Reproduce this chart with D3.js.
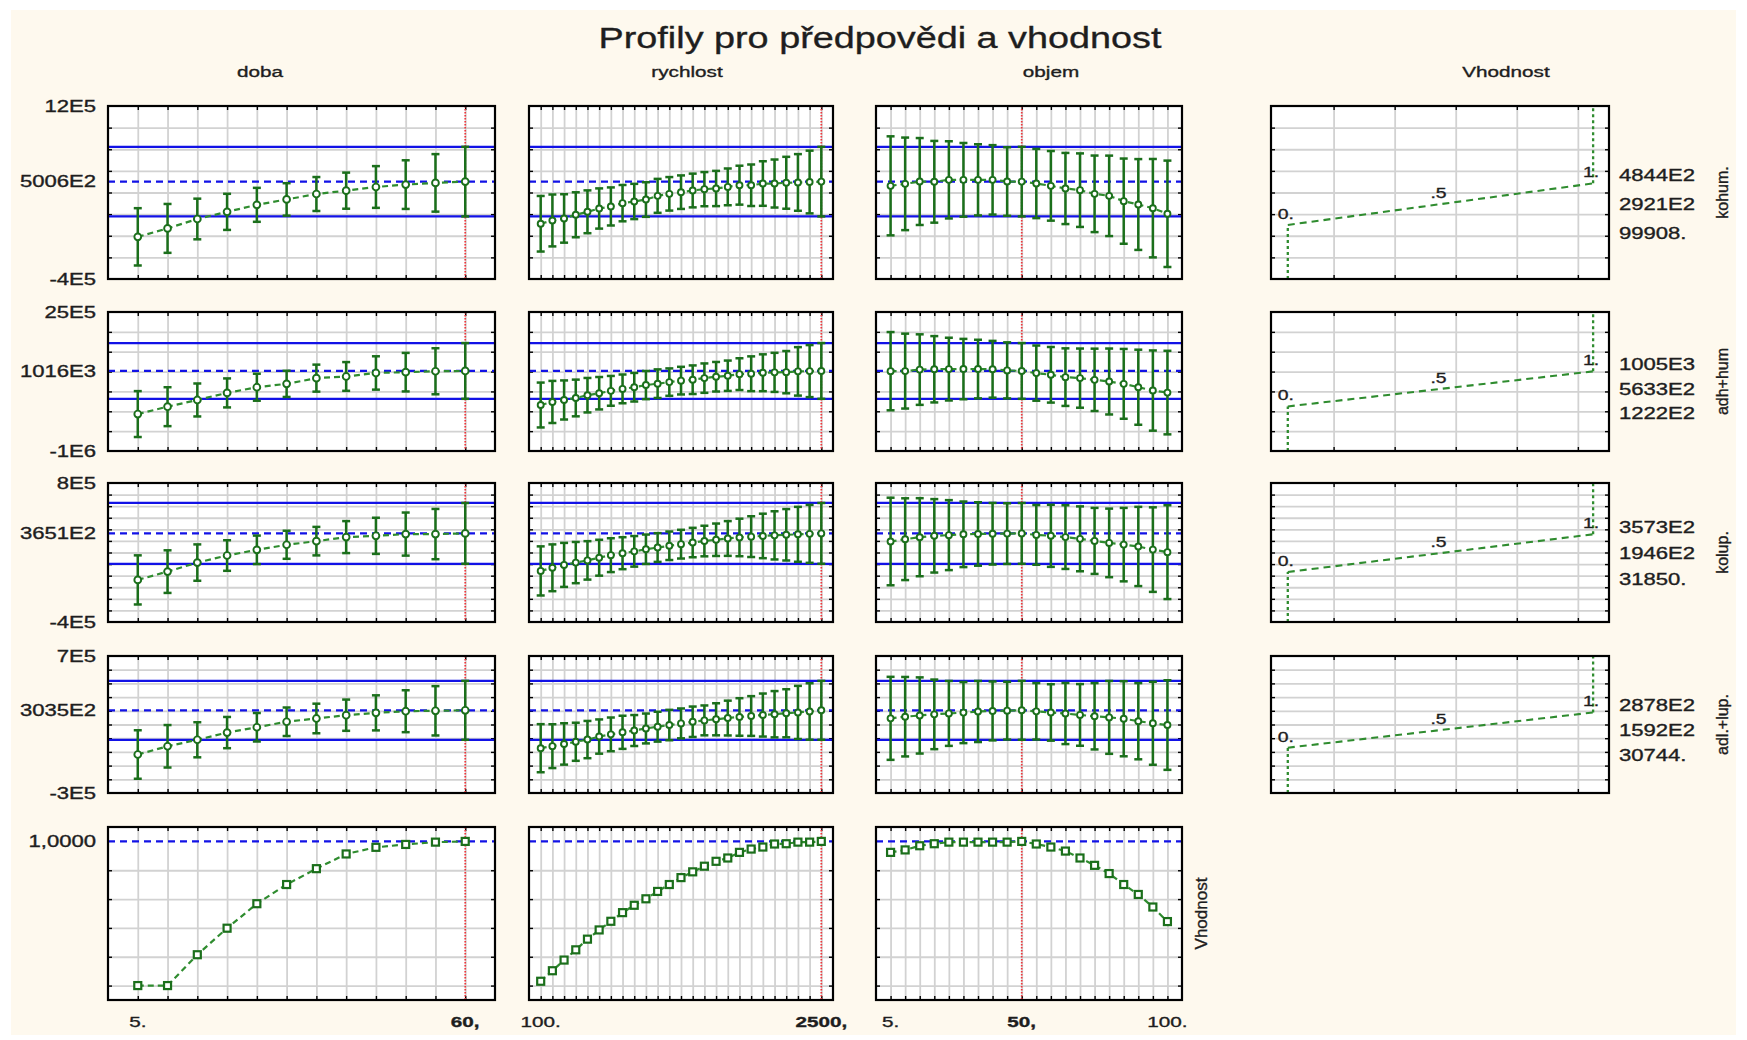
<!DOCTYPE html>
<html>
<head>
<meta charset="utf-8">
<script src="https://cdn.jsdelivr.net/npm/d3@7"></script>
<style>
  body { margin: 0; background: #ffffff; }
  svg { display: block; font-family: "Liberation Sans", Arial, sans-serif; }
  text { paint-order: stroke; stroke: #1e1e1e; stroke-width: 0.35px; }
</style>
</head>
<body>
<svg id="chart" width="1747" height="1040"></svg>
<script>
// ---------- factors (columns) ----------
const factorNames = ["doba", "rychlost", "objem"];
const dobaLevels = [5, 10, 15, 20, 25, 30, 35, 40, 45, 50, 55, 60];
const rychlostLevels = [100, 200, 300, 400, 500, 600, 700, 800, 900, 1000, 1100, 1200, 1300,
  1400, 1500, 1600, 1700, 1800, 1900, 2000, 2100, 2200, 2300, 2400, 2500];
const objemLevels = [5, 10, 15, 20, 25, 30, 35, 40, 45, 50, 55, 60, 65, 70, 75, 80, 85, 90, 95, 100];
const factorDomains = [[0, 65], [0, 2600], [0, 105]];
const currentSetting = [60, 2500, 50];
const xTickValues = [[5, 60], [100, 2500], [5, 50, 100]];
const xTickTexts = [["5.", "60,"], ["100.", "2500,"], ["5.", "50,", "100."]];

// ---------- responses (rows) ----------
const responseNames = ["kohum.", "adh+hum", "kolup.", "adl.+lup."];
const responseDomains = [[-400000, 1200000], [-1000000, 2500000], [-400000, 800000], [-300000, 700000]];
const responseGridStep = [200000, 500000, 100000, 100000];
const responseTopLabels = ["12E5", "25E5", "8E5", "7E5"];
const responseBottomLabels = ["-4E5", "-1E6", "-4E5", "-3E5"];
const currentPred = [500600, 1016000, 365100, 303500];
const currentPredLabels = ["5006E2", "1016E3", "3651E2", "3035E2"];
const currentCI = [322000, 702000, 262500, 215000];

// ---------- predicted profiles with confidence half-widths ----------
const kohumDobaPred = [-10000, 68000, 155000, 221000, 286000, 336000, 386000, 417000, 451000, 473000, 489000, 500600];
const kohumDobaCI = [265000, 226000, 188000, 167000, 157000, 150000, 157000, 167000, 193000, 225000, 266000, 322000];
const kohumRychlostPred = [111000, 141500, 160000, 194000, 221600, 252000, 271000, 301600, 317000, 335000, 369000, 387700,
  403000, 418500, 431000, 437000, 452000, 467700, 467000, 483000, 483000, 490000, 493000, 497000, 500600];
const kohumRychlostCI = [257000, 240000, 224000, 208000, 198000, 186000, 176000, 168000, 163000, 160000, 157000, 155000,
  155000, 156000, 158000, 163000, 170000, 180000, 192000, 206000, 222000, 240000, 262000, 290000, 322000];
const kohumObjemPred = [461600, 480000, 501600, 499000, 517000, 517000, 517000, 517000, 501600, 500600,
  483000, 461600, 437000, 421600, 387700, 369000, 320000, 289000, 255000, 203000];
const kohumObjemCI = [458000, 428000, 402000, 378000, 357000, 341000, 329000, 321000, 317000, 322000,
  320000, 322000, 329000, 340000, 354000, 372000, 394000, 420000, 455000, 492000];

const adhDobaPred = [-70000, 116000, 285000, 462600, 606000, 691000, 834600, 877000, 965000, 985000, 1008000, 1016000];
const adhDobaCI = [578000, 490000, 415000, 365000, 340000, 330000, 340000, 362000, 420000, 485000, 580000, 702000];
const adhRychlostPred = [158000, 235000, 285000, 335000, 405000, 455000, 515000, 564000, 606000, 660000, 695000, 735000,
  772000, 795000, 835000, 870000, 895000, 935000, 945000, 970000, 980000, 985000, 1005000, 1012000, 1016000];
const adhRychlostCI = [565000, 530000, 492000, 462000, 434000, 408000, 375000, 362000, 360000, 355000, 360000, 345000,
  348000, 360000, 370000, 372000, 382000, 400000, 438000, 464000, 492000, 532000, 610000, 655000, 702000];
const adhObjemPred = [1010000, 1012000, 1050000, 1058000, 1062000, 1063000, 1063000, 1058000, 1030000, 1016000,
  961000, 919000, 860000, 835000, 792000, 750000, 691000, 606000, 522000, 471000];
const adhObjemCI = [985000, 943000, 888000, 835000, 790000, 760000, 738000, 715000, 706000, 702000,
  695000, 700000, 725000, 745000, 785000, 830000, 879000, 945000, 1010000, 1052000];

const kolupDobaPred = [-36600, 35000, 113000, 174000, 223000, 266600, 298000, 333000, 344000, 359000, 359000, 365100];
const kolupDobaCI = [212000, 184000, 157000, 132000, 123000, 121000, 123000, 138000, 156000, 186000, 217000, 262500];
const kolupRychlostPred = [41000, 68000, 93000, 113000, 132000, 155000, 177000, 194000, 210000, 228000, 243000, 258000,
  272000, 286000, 299000, 310000, 321000, 330000, 337000, 343000, 348000, 353000, 357000, 361000, 365100];
const kolupRychlostCI = [212000, 202000, 190000, 178000, 166000, 155000, 146000, 138000, 132000, 127000, 124000, 123000,
  124000, 127000, 132000, 140000, 150000, 162000, 176000, 192000, 208000, 222000, 237000, 250000, 262500];
const kolupObjemPred = [295000, 315000, 332000, 344000, 350000, 357000, 360000, 362000, 363000, 365100,
  352000, 344000, 333000, 318000, 300000, 283000, 268000, 252000, 225000, 203000];
const kolupObjemCI = [378000, 353000, 337000, 317000, 302000, 283000, 274000, 266000, 262000, 262500,
  258000, 268000, 275000, 280000, 285000, 296000, 317000, 342000, 365000, 405000];

const adlDobaPred = [-19000, 41000, 88500, 141000, 180000, 220000, 244000, 268000, 285000, 297000, 300000, 303500];
const adlDobaCI = [177000, 155000, 128000, 114000, 104000, 104000, 108000, 114000, 128000, 153000, 180000, 215000];
const adlRychlostPred = [27000, 42000, 58000, 74000, 90000, 112000, 128000, 143000, 156000, 171000, 184000, 196000,
  208000, 220000, 230000, 238000, 247000, 255000, 262000, 269000, 275000, 282000, 288000, 295000, 303500];
const adlRychlostCI = [175500, 160000, 151000, 139000, 136000, 125000, 123000, 121000, 113000, 109000, 109000, 111000,
  109000, 111000, 109000, 117000, 127000, 137000, 145000, 157000, 169000, 175500, 194000, 206000, 215000];
const adlObjemPred = [245000, 257000, 266000, 274000, 281000, 287000, 295000, 299000, 301000, 303500,
  296000, 288000, 280000, 270000, 260000, 252000, 242000, 224000, 209000, 196000];
const adlObjemCI = [303000, 290000, 278000, 254000, 237000, 223000, 223000, 215000, 211000, 215000,
  206000, 206000, 223000, 225000, 242000, 266000, 274000, 278000, 303000, 327000];

// ---------- desirability functions per response ----------
const desLow = [99908, 122200, 31850, 30744];
const desMid = [292100, 563300, 194600, 159200];
const desHigh = [484400, 1005000, 357300, 287800];
const desLowLabels = ["99908.", "1222E2", "31850.", "30744."];
const desMidLabels = ["2921E2", "5633E2", "1946E2", "1592E2"];
const desHighLabels = ["4844E2", "1005E3", "3573E2", "2878E2"];
const desPointLabels = ["0.", ".5", "1."];
const desGrid = [0.15, 0.35, 0.55, 0.75, 0.95];

// ---------- overall desirability profiles ----------
const vhodnostDoba = [0, 0, 0.214, 0.398, 0.568, 0.701, 0.811, 0.913, 0.959, 0.979, 0.995, 1.0];
const vhodnostRychlost = [0.030, 0.103, 0.177, 0.248, 0.322, 0.386, 0.446, 0.506, 0.557, 0.602, 0.653, 0.701,
  0.749, 0.789, 0.828, 0.862, 0.885, 0.924, 0.947, 0.961, 0.982, 0.984, 0.995, 0.995, 1.0];
const vhodnostObjem = [0.924, 0.941, 0.970, 0.984, 0.995, 0.995, 0.995, 0.995, 0.995, 1.0,
  0.982, 0.961, 0.933, 0.885, 0.834, 0.777, 0.701, 0.632, 0.545, 0.444];
const vhodnostDomain = [-0.1, 1.1];
const vhodnostGrid = [0, 0.2, 0.4, 0.6, 0.8];
const vhodnostLabel = "1,0000";

// ---------- assemble ----------
const levels = [dobaLevels, rychlostLevels, objemLevels];
const profiles = [
  [[kohumDobaPred, kohumDobaCI], [kohumRychlostPred, kohumRychlostCI], [kohumObjemPred, kohumObjemCI]],
  [[adhDobaPred, adhDobaCI], [adhRychlostPred, adhRychlostCI], [adhObjemPred, adhObjemCI]],
  [[kolupDobaPred, kolupDobaCI], [kolupRychlostPred, kolupRychlostCI], [kolupObjemPred, kolupObjemCI]],
  [[adlDobaPred, adlDobaCI], [adlRychlostPred, adlRychlostCI], [adlObjemPred, adlObjemCI]]
];
const vhodnost = [vhodnostDoba, vhodnostRychlost, vhodnostObjem];

// ---------- layout ----------
const W = 1747, H = 1040;
const colBounds = [[108, 495], [529, 833], [876, 1182]];
const desBounds = [1271, 1609];
const rowBounds = [[106, 279], [312, 451], [483, 622], [656, 793], [827, 1000]];
const headerX = [260, 687, 1051, 1506];

const C = {
  grid: "#d2d2d2", blue: "#1212e6", red: "#f0353a",
  bar: "#1b6f1b", line: "#2f8c2f", text: "#1e1e1e"
};

const svg = d3.select("#chart");
const defs = svg.append("defs");
svg.append("rect").attr("width", W).attr("height", H).attr("fill", "#ffffff");
svg.append("rect").attr("x", 11).attr("y", 10).attr("width", 1725).attr("height", 1025).attr("fill", "#fef9ee");

const SX = 1.38;
function txt(parent, x, y, s, o = {}) {
  return parent.append("text")
    .attr("transform", `translate(${x},${y}) scale(${o.sx ?? SX},1)`)
    .attr("text-anchor", o.anchor || "start")
    .attr("dy", o.dy || "0")
    .attr("font-size", o.size || 16)
    .attr("font-weight", o.weight || "normal")
    .attr("fill", o.fill || C.text)
    .text(s);
}
function vtxt(parent, x, y, s, size) {
  return parent.append("text")
    .attr("transform", `translate(${x},${y}) rotate(-90)`)
    .attr("text-anchor", "middle").attr("dy", "0.35em")
    .attr("font-size", size).attr("fill", C.text).text(s);
}

let clipN = 0;
// white plot area with grid, inward ticks; returns clipped layer and a frame finisher
function panel(x0, x1, y0, y1, xs, ys, vGrid, hGrid) {
  const g = svg.append("g");
  const id = "pc" + (clipN++);
  defs.append("clipPath").attr("id", id).append("rect")
    .attr("x", x0).attr("y", y0).attr("width", x1 - x0).attr("height", y1 - y0);
  g.append("rect").attr("x", x0).attr("y", y0).attr("width", x1 - x0).attr("height", y1 - y0).attr("fill", "#ffffff");

  const style = (sel, color, w) => {
    sel.select(".domain").remove();
    sel.selectAll("line").attr("stroke", color).attr("stroke-width", w);
    sel.selectAll("text").remove();
  };
  // gridlines
  g.append("g").attr("transform", `translate(0,${y1})`)
    .call(d3.axisBottom(xs).tickValues(vGrid).tickSize(-(y1 - y0)).tickFormat(""))
    .call(s => style(s, C.grid, 1.8));
  g.append("g").attr("transform", `translate(${x0},0)`)
    .call(d3.axisLeft(ys).tickValues(hGrid).tickSize(-(x1 - x0)).tickFormat(""))
    .call(s => style(s, C.grid, 1.8));
  // inward ticks on all four sides
  g.append("g").attr("transform", `translate(0,${y1})`)
    .call(d3.axisBottom(xs).tickValues(vGrid).tickSize(-4).tickFormat("")).call(s => style(s, "#000", 1.4));
  g.append("g").attr("transform", `translate(0,${y0})`)
    .call(d3.axisTop(xs).tickValues(vGrid).tickSize(-4).tickFormat("")).call(s => style(s, "#000", 1.4));
  g.append("g").attr("transform", `translate(${x0},0)`)
    .call(d3.axisLeft(ys).tickValues(hGrid).tickSize(-4).tickFormat("")).call(s => style(s, "#000", 1.4));
  g.append("g").attr("transform", `translate(${x1},0)`)
    .call(d3.axisRight(ys).tickValues(hGrid).tickSize(-4).tickFormat("")).call(s => style(s, "#000", 1.4));

  const inner = g.append("g").attr("clip-path", `url(#${id})`);
  const frame = () => g.append("rect").attr("x", x0).attr("y", y0)
    .attr("width", x1 - x0).attr("height", y1 - y0)
    .attr("fill", "none").attr("stroke", "#000").attr("stroke-width", 2.2);
  return { g, inner, frame };
}

// ---------- title and headers ----------
txt(svg, 880, 48, "Profily pro předpovědi a vhodnost", { size: 30, anchor: "middle", sx: 1.26 });
factorNames.concat(["Vhodnost"]).forEach((n, i) => txt(svg, headerX[i], 77, n, { size: 15, anchor: "middle" }));

// ---------- response rows ----------
responseNames.forEach((resp, r) => {
  const [y0, y1] = rowBounds[r];
  const ys = d3.scaleLinear().domain(responseDomains[r]).range([y1, y0]);
  const step = responseGridStep[r];
  const hGrid = d3.range(responseDomains[r][0] + step, responseDomains[r][1] - step / 2, step);

  // y labels on the left
  txt(svg, 96, y0, responseTopLabels[r], { anchor: "end", dy: "0.36em" });
  txt(svg, 96, ys(currentPred[r]), currentPredLabels[r], { anchor: "end", dy: "0.36em" });
  txt(svg, 96, y1, responseBottomLabels[r], { anchor: "end", dy: "0.36em" });

  factorNames.forEach((f, c) => {
    const [x0, x1] = colBounds[c];
    const xs = d3.scaleLinear().domain(factorDomains[c]).range([x0, x1]);
    const lv = levels[c];
    const [pred, ci] = profiles[r][c];
    const p = panel(x0, x1, y0, y1, xs, ys, lv, hGrid);
    const L = p.inner;

    // confidence band at the current setting and current prediction
    [currentPred[r] + currentCI[r], currentPred[r] - currentCI[r]].forEach(v => {
      L.append("line").attr("x1", x0).attr("x2", x1).attr("y1", ys(v)).attr("y2", ys(v))
        .attr("stroke", C.blue).attr("stroke-width", 2.2);
    });
    L.append("line").attr("x1", x0).attr("x2", x1).attr("y1", ys(currentPred[r])).attr("y2", ys(currentPred[r]))
      .attr("stroke", C.blue).attr("stroke-width", 2.2).attr("stroke-dasharray", "7,5");
    // current factor setting
    L.append("line").attr("x1", xs(currentSetting[c])).attr("x2", xs(currentSetting[c]))
      .attr("y1", y0).attr("y2", y1).attr("stroke", C.red).attr("stroke-width", 1.7)
      .attr("stroke-dasharray", "1.5,1.5");

    const pts = lv.map((x, i) => ({ x, y: pred[i], h: ci[i] }));
    L.append("path").datum(pts)
      .attr("d", d3.line().x(d => xs(d.x)).y(d => ys(d.y)))
      .attr("fill", "none").attr("stroke", C.line).attr("stroke-width", 2.2).attr("stroke-dasharray", "6,4");

    const bars = L.append("g").attr("stroke", C.bar).attr("stroke-width", 2.5);
    bars.selectAll(".v").data(pts).join("line")
      .attr("x1", d => xs(d.x)).attr("x2", d => xs(d.x))
      .attr("y1", d => ys(d.y - d.h)).attr("y2", d => ys(d.y + d.h));
    bars.selectAll(".t").data(pts).join("line")
      .attr("x1", d => xs(d.x) - 4).attr("x2", d => xs(d.x) + 4)
      .attr("y1", d => ys(d.y + d.h)).attr("y2", d => ys(d.y + d.h));
    bars.selectAll(".b").data(pts).join("line")
      .attr("x1", d => xs(d.x) - 4).attr("x2", d => xs(d.x) + 4)
      .attr("y1", d => ys(d.y - d.h)).attr("y2", d => ys(d.y - d.h));

    L.selectAll("circle").data(pts).join("circle")
      .attr("cx", d => xs(d.x)).attr("cy", d => ys(d.y)).attr("r", c === 0 ? 3.4 : 3)
      .attr("fill", "#ffffff").attr("stroke", C.bar).attr("stroke-width", 1.9);
    p.frame();
  });

  // desirability function for this response
  const [dx0, dx1] = desBounds;
  const dxs = d3.scaleLinear().domain([-0.055, 1.052]).range([dx0, dx1]);
  const dp = panel(dx0, dx1, y0, y1, dxs, ys, desGrid, hGrid);
  const yL = ys(desLow[r]), yM = ys(desMid[r]), yH = ys(desHigh[r]);
  dp.inner.append("line").attr("x1", dxs(0)).attr("x2", dxs(0)).attr("y1", y1).attr("y2", yL)
    .attr("stroke", C.line).attr("stroke-width", 2.3).attr("stroke-dasharray", "3,3");
  dp.inner.append("line").attr("x1", dxs(1)).attr("x2", dxs(1)).attr("y1", yH).attr("y2", y0)
    .attr("stroke", C.line).attr("stroke-width", 2.3).attr("stroke-dasharray", "3,3");
  const dpts = [[0, desLow[r]], [0.5, desMid[r]], [1, desHigh[r]]];
  dp.inner.append("path").datum(dpts)
    .attr("d", d3.line().x(d => dxs(d[0])).y(d => ys(d[1])))
    .attr("fill", "none").attr("stroke", C.line).attr("stroke-width", 2.1).attr("stroke-dasharray", "7,5");
  dpts.forEach((d, i) => txt(dp.g, dxs(d[0]) - 2, ys(d[1]) - 6, desPointLabels[i], { size: 15.5, anchor: "middle", sx: 1.25 }));
  dp.frame();

  const gap = Math.max(24, (yL - yH) * 0.7);
  txt(svg, 1619, yM - gap, desHighLabels[r], { dy: "0.36em" });
  txt(svg, 1619, yM, desMidLabels[r], { dy: "0.36em" });
  txt(svg, 1619, yM + gap, desLowLabels[r], { dy: "0.36em" });
  vtxt(svg, 1722, (y0 + y1) / 2, resp, 16);
});

// ---------- overall desirability row ----------
{
  const [y0, y1] = rowBounds[4];
  const ys = d3.scaleLinear().domain(vhodnostDomain).range([y1, y0]);
  txt(svg, 96, ys(1), vhodnostLabel, { anchor: "end", dy: "0.36em" });

  factorNames.forEach((f, c) => {
    const [x0, x1] = colBounds[c];
    const xs = d3.scaleLinear().domain(factorDomains[c]).range([x0, x1]);
    const lv = levels[c];
    const p = panel(x0, x1, y0, y1, xs, ys, lv, vhodnostGrid);
    const L = p.inner;
    L.append("line").attr("x1", x0).attr("x2", x1).attr("y1", ys(1)).attr("y2", ys(1))
      .attr("stroke", C.blue).attr("stroke-width", 2.2).attr("stroke-dasharray", "7,5");
    L.append("line").attr("x1", xs(currentSetting[c])).attr("x2", xs(currentSetting[c]))
      .attr("y1", y0).attr("y2", y1).attr("stroke", C.red).attr("stroke-width", 1.7)
      .attr("stroke-dasharray", "1.5,1.5");
    const pts = lv.map((x, i) => ({ x, y: vhodnost[c][i] }));
    L.append("path").datum(pts)
      .attr("d", d3.line().x(d => xs(d.x)).y(d => ys(d.y)))
      .attr("fill", "none").attr("stroke", C.line).attr("stroke-width", 2.2).attr("stroke-dasharray", "6,4");
    L.selectAll("rect.m").data(pts).join("rect")
      .attr("x", d => xs(d.x) - 3.5).attr("y", d => ys(d.y) - 3.5).attr("width", 7).attr("height", 7)
      .attr("fill", "#ffffff").attr("stroke", C.bar).attr("stroke-width", 2.2);
    p.frame();

    xTickValues[c].forEach((v, i) => {
      txt(svg, xs(v), 1027, xTickTexts[c][i], {
        size: 15, anchor: "middle", weight: v === currentSetting[c] ? "bold" : "normal"
      });
    });
  });
  vtxt(svg, 1201, (y0 + y1) / 2, "Vhodnost", 17);
}
</script>
</body>
</html>
